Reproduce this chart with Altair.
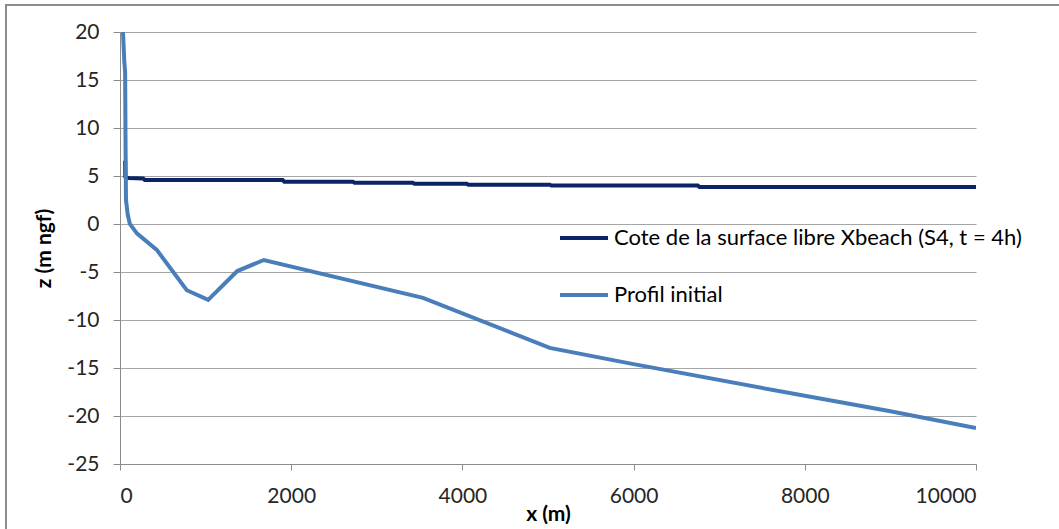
import altair as alt
import pandas as pd

# Water surface (Xbeach S4, t = 4h)
surf_x = [60, 62, 100, 270, 290, 1900, 1920, 2720, 2740, 3420, 3440, 4050, 4070, 5020, 5040, 6750, 6770, 10000]
surf_z = [6.6, 4.95, 4.8, 4.75, 4.58, 4.58, 4.41, 4.41, 4.30, 4.30, 4.20, 4.20, 4.09, 4.09, 4.01, 4.01, 3.85, 3.85]

# Initial profile
prof_x = [35, 50, 60, 65, 70, 90, 115, 200, 430, 780, 1030, 1370, 1680, 3540, 5020, 6000, 8000, 9000, 10000]
prof_z = [20, 17.0, 15.8, 8.0, 2.5, 1.0, 0.0, -1.0, -2.7, -6.9, -7.9, -4.9, -3.75, -7.7, -12.9, -14.6, -17.9, -19.5, -21.25]

s1 = "Cote de la surface libre Xbeach (S4, t = 4h)"
s2 = "Profil initial"

df = pd.concat([
    pd.DataFrame({"x": surf_x, "z": surf_z, "serie": s1, "i": range(len(surf_x))}),
    pd.DataFrame({"x": prof_x, "z": prof_z, "serie": s2, "i": range(len(prof_x))}),
])

FONT = "Lato"

lines = alt.Chart(df).mark_line(strokeWidth=4, clip=True).encode(
    x=alt.X("x:Q", scale=alt.Scale(domain=[0, 10000], nice=False),
            axis=alt.Axis(values=[0, 2000, 4000, 6000, 8000, 10000], title="x (m)",
                          labelExpr="datum.value + ''",
                          grid=False, tickSize=6, labelPadding=15, titlePadding=-3)),
    y=alt.Y("z:Q", scale=alt.Scale(domain=[-25, 20], nice=False),
            axis=alt.Axis(values=[-25, -20, -15, -10, -5, 0, 5, 10, 15, 20], title="z (m ngf)",
                          labelExpr="datum.value + ''",
                          grid=True, tickSize=7, labelPadding=14, titlePadding=12)),
    color=alt.Color("serie:N",
                    scale=alt.Scale(domain=[s1, s2], range=["#0A2465", "#4A7EBB"]),
                    legend=alt.Legend(title=None, orient="none", legendX=438, legendY=180,
                                      symbolType="stroke", symbolStrokeWidth=4, symbolSize=2304,
                                      labelFontSize=22, labelFont=FONT, labelColor="#000000",
                                      labelOffset=4, rowPadding=20, padding=0, labelLimit=0)),
    order="i:Q",
)

frame = alt.Chart(alt.Data(values=[{}])).mark_rect(
    fill=None, stroke="#8C8C8C", strokeWidth=2, clip=False
).encode(x=alt.value(-114), x2=alt.value(960), y=alt.value(-27), y2=alt.value(520))

chart = alt.layer(frame, lines).properties(
    width=856, height=432,
    autosize=alt.AutoSizeParams(type="none"),
    padding={"left": 120, "top": 32, "right": 83, "bottom": 65},
).configure(background="white").configure_view(stroke=None).configure_axis(
    labelFont=FONT, titleFont=FONT, labelFontSize=21, titleFontSize=21,
    labelColor="#262626", titleColor="#000000", titleFontWeight="bold",
    domainColor="#8C8C8C", tickColor="#8C8C8C", gridColor="#A6A6A6",
    domainWidth=1, gridWidth=1,
)

chart.save("out.html", embed_options={"renderer": "svg", "actions": False})
